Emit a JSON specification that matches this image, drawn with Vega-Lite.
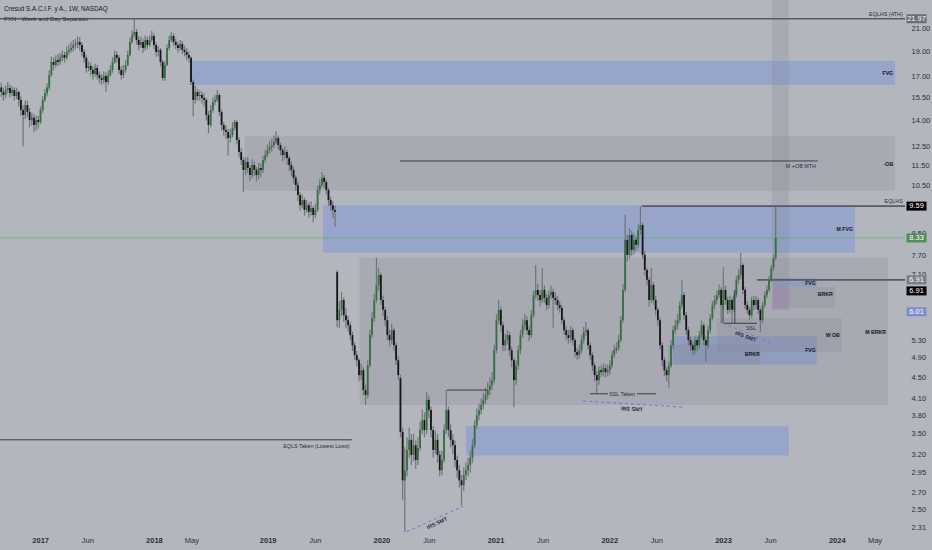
{
"$schema":"https://vega.github.io/schema/vega-lite/v6.json",
"width":905,"height":532,
"autosize":{"type":"none"},
"padding":{"left":0,"top":0,"right":27,"bottom":18},
"background":"#b4b6be",
"config":{"view":{"stroke":null},"font":"Liberation Sans"},
"datasets":{
"candles":[
{"d":"2016-08-29","o":16.2,"h":16.55,"l":15.55,"c":15.89},
{"d":"2016-09-05","o":15.89,"h":16.2,"l":15.3,"c":15.68},
{"d":"2016-09-12","o":15.68,"h":16.35,"l":15.45,"c":16.03},
{"d":"2016-09-19","o":16.03,"h":16.6,"l":15.8,"c":16.17},
{"d":"2016-09-26","o":16.17,"h":16.4,"l":15.5,"c":15.82},
{"d":"2016-10-03","o":15.82,"h":16.3,"l":15.6,"c":16.03},
{"d":"2016-10-10","o":16.03,"h":16.2,"l":15.3,"c":15.61},
{"d":"2016-10-17","o":15.61,"h":16.2,"l":15.4,"c":15.89},
{"d":"2016-10-24","o":15.89,"h":16.0,"l":14.9,"c":15.34},
{"d":"2016-10-31","o":15.34,"h":15.6,"l":14.3,"c":14.68},
{"d":"2016-11-07","o":14.68,"h":15.0,"l":12.5,"c":14.35},
{"d":"2016-11-14","o":14.35,"h":15.3,"l":14.1,"c":15.0},
{"d":"2016-11-21","o":15.0,"h":15.3,"l":14.2,"c":14.55},
{"d":"2016-11-28","o":14.55,"h":14.8,"l":13.6,"c":14.04},
{"d":"2016-12-05","o":14.04,"h":14.5,"l":13.7,"c":14.17},
{"d":"2016-12-12","o":14.17,"h":14.4,"l":13.3,"c":13.73},
{"d":"2016-12-19","o":13.73,"h":14.3,"l":13.4,"c":14.04},
{"d":"2016-12-26","o":14.04,"h":14.3,"l":13.5,"c":13.9},
{"d":"2017-01-02","o":13.9,"h":14.9,"l":13.8,"c":14.68},
{"d":"2017-01-09","o":14.68,"h":15.6,"l":14.5,"c":15.34},
{"d":"2017-01-16","o":15.34,"h":16.1,"l":15.2,"c":15.8},
{"d":"2017-01-23","o":15.8,"h":16.5,"l":15.6,"c":16.2},
{"d":"2017-01-30","o":16.2,"h":17.5,"l":16.0,"c":17.13},
{"d":"2017-02-06","o":17.13,"h":18.6,"l":17.0,"c":18.15},
{"d":"2017-02-13","o":18.15,"h":18.5,"l":17.5,"c":17.91},
{"d":"2017-02-20","o":17.91,"h":18.7,"l":17.7,"c":18.31},
{"d":"2017-02-27","o":18.31,"h":18.8,"l":17.8,"c":18.15},
{"d":"2017-03-06","o":18.15,"h":18.9,"l":17.9,"c":18.48},
{"d":"2017-03-13","o":18.48,"h":19.1,"l":18.2,"c":18.72},
{"d":"2017-03-20","o":18.72,"h":19.0,"l":18.1,"c":18.48},
{"d":"2017-03-27","o":18.48,"h":19.4,"l":18.3,"c":18.97},
{"d":"2017-04-03","o":18.97,"h":19.6,"l":18.7,"c":19.14},
{"d":"2017-04-10","o":19.14,"h":19.8,"l":18.9,"c":19.31},
{"d":"2017-04-17","o":19.31,"h":20.0,"l":19.0,"c":19.56},
{"d":"2017-04-24","o":19.56,"h":20.1,"l":19.2,"c":19.65},
{"d":"2017-05-01","o":19.65,"h":20.3,"l":19.3,"c":19.82},
{"d":"2017-05-08","o":19.82,"h":20.25,"l":19.1,"c":19.56},
{"d":"2017-05-15","o":19.56,"h":19.8,"l":18.6,"c":18.97},
{"d":"2017-05-22","o":18.97,"h":19.2,"l":18.1,"c":18.48},
{"d":"2017-05-29","o":18.48,"h":18.7,"l":17.3,"c":17.67},
{"d":"2017-06-05","o":17.67,"h":18.2,"l":17.4,"c":17.83},
{"d":"2017-06-12","o":17.83,"h":18.1,"l":17.1,"c":17.52},
{"d":"2017-06-19","o":17.52,"h":17.8,"l":16.8,"c":17.21},
{"d":"2017-06-26","o":17.21,"h":18.0,"l":17.0,"c":17.67},
{"d":"2017-07-03","o":17.67,"h":17.9,"l":16.8,"c":17.13},
{"d":"2017-07-10","o":17.13,"h":17.4,"l":16.5,"c":16.91},
{"d":"2017-07-17","o":16.91,"h":17.2,"l":16.4,"c":16.76},
{"d":"2017-07-24","o":16.76,"h":17.4,"l":16.5,"c":17.06},
{"d":"2017-07-31","o":17.06,"h":17.3,"l":15.9,"c":16.61},
{"d":"2017-08-07","o":16.61,"h":17.5,"l":16.4,"c":17.13},
{"d":"2017-08-14","o":17.13,"h":17.9,"l":17.0,"c":17.52},
{"d":"2017-08-21","o":17.52,"h":18.5,"l":17.3,"c":18.15},
{"d":"2017-08-28","o":18.15,"h":19.1,"l":18.0,"c":18.72},
{"d":"2017-09-04","o":18.72,"h":19.0,"l":18.1,"c":18.48},
{"d":"2017-09-11","o":18.48,"h":18.7,"l":17.2,"c":17.52},
{"d":"2017-09-18","o":17.52,"h":17.8,"l":16.8,"c":17.13},
{"d":"2017-09-25","o":17.13,"h":17.9,"l":16.9,"c":17.52},
{"d":"2017-10-02","o":17.52,"h":18.3,"l":17.3,"c":17.91},
{"d":"2017-10-09","o":17.91,"h":19.1,"l":17.8,"c":18.72},
{"d":"2017-10-16","o":18.72,"h":20.2,"l":18.6,"c":19.82},
{"d":"2017-10-23","o":19.82,"h":20.9,"l":19.7,"c":20.45},
{"d":"2017-10-30","o":20.45,"h":21.97,"l":20.2,"c":20.72},
{"d":"2017-11-06","o":20.72,"h":21.0,"l":19.6,"c":20.0},
{"d":"2017-11-13","o":20.0,"h":20.3,"l":19.1,"c":19.56},
{"d":"2017-11-20","o":19.56,"h":20.3,"l":19.3,"c":19.82},
{"d":"2017-11-27","o":19.82,"h":20.1,"l":18.9,"c":19.31},
{"d":"2017-12-04","o":19.31,"h":20.4,"l":19.1,"c":20.0},
{"d":"2017-12-11","o":20.0,"h":20.3,"l":19.2,"c":19.56},
{"d":"2017-12-18","o":19.56,"h":20.4,"l":19.4,"c":20.0},
{"d":"2017-12-25","o":20.0,"h":20.8,"l":19.8,"c":20.36},
{"d":"2018-01-01","o":20.36,"h":20.6,"l":19.2,"c":19.56},
{"d":"2018-01-08","o":19.56,"h":19.8,"l":18.6,"c":18.97},
{"d":"2018-01-15","o":18.97,"h":19.5,"l":18.6,"c":19.14},
{"d":"2018-01-22","o":19.14,"h":19.3,"l":17.8,"c":18.15},
{"d":"2018-01-29","o":18.15,"h":18.3,"l":16.7,"c":16.91},
{"d":"2018-02-05","o":16.91,"h":18.2,"l":16.7,"c":17.91},
{"d":"2018-02-12","o":17.91,"h":19.6,"l":17.8,"c":19.31},
{"d":"2018-02-19","o":19.31,"h":20.4,"l":19.1,"c":20.0},
{"d":"2018-02-26","o":20.0,"h":20.75,"l":19.8,"c":20.36},
{"d":"2018-03-05","o":20.36,"h":20.6,"l":19.5,"c":19.82},
{"d":"2018-03-12","o":19.82,"h":20.1,"l":19.2,"c":19.56},
{"d":"2018-03-19","o":19.56,"h":19.8,"l":18.9,"c":19.31},
{"d":"2018-03-26","o":19.31,"h":20.0,"l":19.1,"c":19.65},
{"d":"2018-04-02","o":19.65,"h":19.9,"l":18.8,"c":19.14},
{"d":"2018-04-09","o":19.14,"h":19.5,"l":18.6,"c":18.97},
{"d":"2018-04-16","o":18.97,"h":19.3,"l":18.3,"c":18.72},
{"d":"2018-04-23","o":18.72,"h":19.0,"l":18.1,"c":18.48},
{"d":"2018-04-30","o":18.48,"h":18.6,"l":16.4,"c":16.61},
{"d":"2018-05-07","o":16.61,"h":16.8,"l":14.25,"c":15.34},
{"d":"2018-05-14","o":15.34,"h":16.3,"l":15.1,"c":15.89},
{"d":"2018-05-21","o":15.89,"h":16.1,"l":15.3,"c":15.61},
{"d":"2018-05-28","o":15.61,"h":16.0,"l":15.3,"c":15.68},
{"d":"2018-06-04","o":15.68,"h":15.9,"l":15.1,"c":15.48},
{"d":"2018-06-11","o":15.48,"h":15.8,"l":14.9,"c":15.34},
{"d":"2018-06-18","o":15.34,"h":15.5,"l":14.0,"c":14.35},
{"d":"2018-06-25","o":14.35,"h":14.6,"l":13.25,"c":13.73},
{"d":"2018-07-02","o":13.73,"h":15.0,"l":13.6,"c":14.68},
{"d":"2018-07-09","o":14.68,"h":15.5,"l":14.5,"c":15.2},
{"d":"2018-07-16","o":15.2,"h":15.7,"l":15.0,"c":15.34},
{"d":"2018-07-23","o":15.34,"h":16.05,"l":15.2,"c":15.68},
{"d":"2018-07-30","o":15.68,"h":15.8,"l":14.3,"c":14.55},
{"d":"2018-08-06","o":14.55,"h":14.7,"l":13.4,"c":13.73},
{"d":"2018-08-13","o":13.73,"h":13.9,"l":13.1,"c":13.43},
{"d":"2018-08-20","o":13.43,"h":13.7,"l":12.9,"c":13.31},
{"d":"2018-08-27","o":13.31,"h":13.5,"l":12.0,"c":12.96},
{"d":"2018-09-03","o":12.96,"h":13.5,"l":12.7,"c":13.13},
{"d":"2018-09-10","o":13.13,"h":13.9,"l":13.0,"c":13.55},
{"d":"2018-09-17","o":13.55,"h":14.05,"l":13.4,"c":13.92},
{"d":"2018-09-24","o":13.92,"h":14.0,"l":12.6,"c":12.85},
{"d":"2018-10-01","o":12.85,"h":13.0,"l":11.9,"c":12.18},
{"d":"2018-10-08","o":12.18,"h":12.4,"l":11.5,"c":11.76},
{"d":"2018-10-15","o":11.76,"h":11.9,"l":10.2,"c":11.25},
{"d":"2018-10-22","o":11.25,"h":11.9,"l":11.0,"c":11.66},
{"d":"2018-10-29","o":11.66,"h":11.9,"l":11.1,"c":11.35},
{"d":"2018-11-05","o":11.35,"h":11.5,"l":10.7,"c":11.0},
{"d":"2018-11-12","o":11.0,"h":11.8,"l":10.85,"c":11.5},
{"d":"2018-11-19","o":11.5,"h":11.7,"l":10.95,"c":11.25},
{"d":"2018-11-26","o":11.25,"h":11.4,"l":10.7,"c":11.0},
{"d":"2018-12-03","o":11.0,"h":11.6,"l":10.8,"c":11.35},
{"d":"2018-12-10","o":11.35,"h":11.6,"l":10.9,"c":11.25},
{"d":"2018-12-17","o":11.25,"h":12.0,"l":11.1,"c":11.76},
{"d":"2018-12-24","o":11.76,"h":12.3,"l":11.6,"c":12.02},
{"d":"2018-12-31","o":12.02,"h":12.6,"l":11.9,"c":12.29},
{"d":"2019-01-07","o":12.29,"h":12.8,"l":12.1,"c":12.46},
{"d":"2019-01-14","o":12.46,"h":12.9,"l":12.2,"c":12.56},
{"d":"2019-01-21","o":12.56,"h":13.1,"l":12.4,"c":12.74},
{"d":"2019-01-28","o":12.74,"h":13.35,"l":12.6,"c":12.96},
{"d":"2019-02-04","o":12.96,"h":13.1,"l":12.3,"c":12.56},
{"d":"2019-02-11","o":12.56,"h":12.7,"l":12.0,"c":12.29},
{"d":"2019-02-18","o":12.29,"h":12.4,"l":11.7,"c":12.02},
{"d":"2019-02-25","o":12.02,"h":12.5,"l":11.8,"c":12.18},
{"d":"2019-03-04","o":12.18,"h":12.3,"l":11.5,"c":11.86},
{"d":"2019-03-11","o":11.86,"h":12.0,"l":11.2,"c":11.5},
{"d":"2019-03-18","o":11.5,"h":11.7,"l":10.95,"c":11.25},
{"d":"2019-03-25","o":11.25,"h":11.4,"l":10.6,"c":10.87},
{"d":"2019-04-01","o":10.87,"h":11.0,"l":10.25,"c":10.53},
{"d":"2019-04-08","o":10.53,"h":10.7,"l":9.8,"c":10.07},
{"d":"2019-04-15","o":10.07,"h":10.2,"l":9.4,"c":9.63},
{"d":"2019-04-22","o":9.63,"h":10.1,"l":9.5,"c":9.85},
{"d":"2019-04-29","o":9.85,"h":9.95,"l":9.2,"c":9.43},
{"d":"2019-05-06","o":9.43,"h":9.85,"l":9.3,"c":9.63},
{"d":"2019-05-13","o":9.63,"h":9.75,"l":9.1,"c":9.35},
{"d":"2019-05-20","o":9.35,"h":9.8,"l":9.2,"c":9.51},
{"d":"2019-05-27","o":9.51,"h":9.6,"l":8.92,"c":9.22},
{"d":"2019-06-03","o":9.22,"h":9.7,"l":9.1,"c":9.43},
{"d":"2019-06-10","o":9.43,"h":10.5,"l":9.35,"c":10.3},
{"d":"2019-06-17","o":10.3,"h":10.8,"l":10.1,"c":10.53},
{"d":"2019-06-24","o":10.53,"h":11.15,"l":10.4,"c":10.87},
{"d":"2019-07-01","o":10.87,"h":11.0,"l":10.4,"c":10.67},
{"d":"2019-07-08","o":10.67,"h":10.8,"l":10.1,"c":10.3},
{"d":"2019-07-15","o":10.3,"h":10.4,"l":9.6,"c":9.85},
{"d":"2019-07-22","o":9.85,"h":10.0,"l":9.4,"c":9.63},
{"d":"2019-07-29","o":9.63,"h":9.8,"l":9.1,"c":9.43},
{"d":"2019-08-05","o":9.43,"h":9.6,"l":8.75,"c":9.35},
{"d":"2019-08-12","o":7.16,"h":7.23,"l":5.61,"c":5.79},
{"d":"2019-08-19","o":5.79,"h":6.3,"l":5.6,"c":6.06},
{"d":"2019-08-26","o":6.06,"h":6.55,"l":5.9,"c":6.33},
{"d":"2019-09-02","o":6.33,"h":6.4,"l":5.75,"c":5.92},
{"d":"2019-09-09","o":5.92,"h":6.1,"l":5.6,"c":5.79},
{"d":"2019-09-16","o":5.79,"h":5.9,"l":5.5,"c":5.66},
{"d":"2019-09-23","o":5.66,"h":5.75,"l":5.3,"c":5.42},
{"d":"2019-09-30","o":5.42,"h":5.5,"l":5.05,"c":5.18},
{"d":"2019-10-07","o":5.18,"h":5.25,"l":4.85,"c":4.96},
{"d":"2019-10-14","o":4.96,"h":5.05,"l":4.72,"c":4.85},
{"d":"2019-10-21","o":4.85,"h":4.9,"l":4.42,"c":4.54},
{"d":"2019-10-28","o":4.54,"h":4.78,"l":4.45,"c":4.64},
{"d":"2019-11-04","o":4.64,"h":4.7,"l":4.15,"c":4.25},
{"d":"2019-11-11","o":4.25,"h":4.35,"l":3.98,"c":4.16},
{"d":"2019-11-18","o":4.16,"h":4.85,"l":4.1,"c":4.74},
{"d":"2019-11-25","o":4.74,"h":5.55,"l":4.7,"c":5.42},
{"d":"2019-12-02","o":5.42,"h":6.0,"l":5.35,"c":5.84},
{"d":"2019-12-09","o":5.84,"h":6.5,"l":5.75,"c":6.33},
{"d":"2019-12-16","o":6.33,"h":7.63,"l":6.25,"c":6.77},
{"d":"2019-12-23","o":6.77,"h":7.3,"l":6.6,"c":7.07},
{"d":"2019-12-30","o":7.07,"h":7.15,"l":6.2,"c":6.33},
{"d":"2020-01-06","o":6.33,"h":6.45,"l":5.9,"c":6.06},
{"d":"2020-01-13","o":6.06,"h":6.15,"l":5.65,"c":5.79},
{"d":"2020-01-20","o":5.79,"h":5.9,"l":5.3,"c":5.42},
{"d":"2020-01-27","o":5.42,"h":5.55,"l":5.15,"c":5.3},
{"d":"2020-02-03","o":5.3,"h":5.7,"l":5.2,"c":5.54},
{"d":"2020-02-10","o":5.54,"h":5.6,"l":5.05,"c":5.18},
{"d":"2020-02-17","o":5.18,"h":5.25,"l":4.75,"c":4.85},
{"d":"2020-02-24","o":4.85,"h":4.95,"l":4.45,"c":4.54},
{"d":"2020-03-02","o":4.48,"h":4.55,"l":3.45,"c":3.53},
{"d":"2020-03-09","o":3.53,"h":3.6,"l":2.61,"c":2.85},
{"d":"2020-03-16","o":2.85,"h":3.3,"l":2.27,"c":2.98},
{"d":"2020-03-23","o":2.98,"h":3.45,"l":2.9,"c":3.26},
{"d":"2020-03-30","o":3.26,"h":3.6,"l":3.15,"c":3.41},
{"d":"2020-04-06","o":3.41,"h":3.5,"l":3.05,"c":3.19},
{"d":"2020-04-13","o":3.19,"h":3.5,"l":3.1,"c":3.33},
{"d":"2020-04-20","o":3.33,"h":3.4,"l":3.0,"c":3.12},
{"d":"2020-04-27","o":3.12,"h":3.45,"l":3.05,"c":3.29},
{"d":"2020-05-04","o":3.29,"h":3.7,"l":3.25,"c":3.56},
{"d":"2020-05-11","o":3.56,"h":3.9,"l":3.5,"c":3.72},
{"d":"2020-05-18","o":3.72,"h":3.85,"l":3.45,"c":3.56},
{"d":"2020-05-25","o":3.56,"h":4.21,"l":3.5,"c":4.07},
{"d":"2020-06-01","o":4.07,"h":4.15,"l":3.75,"c":3.89},
{"d":"2020-06-08","o":3.89,"h":3.95,"l":3.45,"c":3.56},
{"d":"2020-06-15","o":3.56,"h":3.62,"l":3.15,"c":3.26},
{"d":"2020-06-22","o":3.26,"h":3.55,"l":3.2,"c":3.41},
{"d":"2020-06-29","o":3.41,"h":3.5,"l":3.08,"c":3.19},
{"d":"2020-07-06","o":3.19,"h":3.25,"l":2.9,"c":2.98},
{"d":"2020-07-13","o":2.98,"h":3.25,"l":2.92,"c":3.12},
{"d":"2020-07-20","o":3.12,"h":3.65,"l":3.08,"c":3.56},
{"d":"2020-07-27","o":3.56,"h":4.25,"l":3.5,"c":3.89},
{"d":"2020-08-03","o":3.89,"h":3.95,"l":3.45,"c":3.56},
{"d":"2020-08-10","o":3.56,"h":3.65,"l":3.3,"c":3.41},
{"d":"2020-08-17","o":3.41,"h":3.5,"l":3.2,"c":3.33},
{"d":"2020-08-24","o":3.33,"h":3.4,"l":3.02,"c":3.12},
{"d":"2020-08-31","o":3.12,"h":3.18,"l":2.88,"c":2.98},
{"d":"2020-09-07","o":2.98,"h":3.05,"l":2.76,"c":2.85},
{"d":"2020-09-14","o":2.85,"h":2.92,"l":2.55,"c":2.79},
{"d":"2020-09-21","o":2.79,"h":3.02,"l":2.72,"c":2.92},
{"d":"2020-09-28","o":2.92,"h":3.08,"l":2.85,"c":2.98},
{"d":"2020-10-05","o":2.98,"h":3.15,"l":2.9,"c":3.05},
{"d":"2020-10-12","o":3.05,"h":3.25,"l":2.95,"c":3.15},
{"d":"2020-10-19","o":3.15,"h":3.42,"l":3.08,"c":3.33},
{"d":"2020-10-26","o":3.33,"h":3.72,"l":3.28,"c":3.64},
{"d":"2020-11-02","o":3.64,"h":3.92,"l":3.58,"c":3.8},
{"d":"2020-11-09","o":3.8,"h":4.0,"l":3.72,"c":3.89},
{"d":"2020-11-16","o":3.89,"h":4.1,"l":3.82,"c":3.98},
{"d":"2020-11-23","o":3.98,"h":4.2,"l":3.9,"c":4.07},
{"d":"2020-11-30","o":4.07,"h":4.3,"l":4.0,"c":4.16},
{"d":"2020-12-07","o":4.16,"h":4.4,"l":4.08,"c":4.25},
{"d":"2020-12-14","o":4.25,"h":4.5,"l":4.15,"c":4.34},
{"d":"2020-12-21","o":4.34,"h":4.6,"l":4.25,"c":4.44},
{"d":"2020-12-28","o":4.44,"h":5.2,"l":4.38,"c":5.07},
{"d":"2021-01-04","o":5.07,"h":5.95,"l":5.0,"c":5.79},
{"d":"2021-01-11","o":5.79,"h":6.33,"l":5.7,"c":6.06},
{"d":"2021-01-18","o":6.06,"h":6.15,"l":5.5,"c":5.66},
{"d":"2021-01-25","o":5.66,"h":5.75,"l":5.05,"c":5.18},
{"d":"2021-02-01","o":5.18,"h":5.45,"l":5.05,"c":5.3},
{"d":"2021-02-08","o":5.3,"h":5.54,"l":5.2,"c":5.42},
{"d":"2021-02-15","o":5.42,"h":5.5,"l":4.95,"c":5.07},
{"d":"2021-02-22","o":5.07,"h":5.15,"l":4.7,"c":4.85},
{"d":"2021-03-01","o":4.85,"h":4.9,"l":3.94,"c":4.44},
{"d":"2021-03-08","o":4.44,"h":4.85,"l":4.35,"c":4.74},
{"d":"2021-03-15","o":4.74,"h":5.18,"l":4.65,"c":5.07},
{"d":"2021-03-22","o":5.07,"h":5.55,"l":4.98,"c":5.42},
{"d":"2021-03-29","o":5.42,"h":5.82,"l":5.35,"c":5.66},
{"d":"2021-04-05","o":5.66,"h":5.95,"l":5.55,"c":5.79},
{"d":"2021-04-12","o":5.79,"h":5.9,"l":5.42,"c":5.54},
{"d":"2021-04-19","o":5.54,"h":5.65,"l":5.28,"c":5.42},
{"d":"2021-04-26","o":5.42,"h":6.05,"l":5.35,"c":5.92},
{"d":"2021-05-03","o":5.92,"h":6.6,"l":5.85,"c":6.47},
{"d":"2021-05-10","o":6.47,"h":7.39,"l":6.35,"c":6.62},
{"d":"2021-05-17","o":6.62,"h":6.8,"l":6.3,"c":6.47},
{"d":"2021-05-24","o":6.47,"h":6.6,"l":6.15,"c":6.33},
{"d":"2021-05-31","o":6.33,"h":7.29,"l":6.25,"c":6.62},
{"d":"2021-06-07","o":6.62,"h":6.75,"l":6.25,"c":6.39},
{"d":"2021-06-14","o":6.39,"h":6.5,"l":6.05,"c":6.19},
{"d":"2021-06-21","o":6.19,"h":6.6,"l":6.1,"c":6.47},
{"d":"2021-06-28","o":6.47,"h":6.75,"l":6.35,"c":6.56},
{"d":"2021-07-05","o":6.56,"h":6.65,"l":5.6,"c":6.39},
{"d":"2021-07-12","o":6.39,"h":6.55,"l":6.2,"c":6.33},
{"d":"2021-07-19","o":6.33,"h":6.45,"l":6.05,"c":6.19},
{"d":"2021-07-26","o":6.19,"h":6.3,"l":5.98,"c":6.11},
{"d":"2021-08-02","o":6.11,"h":6.2,"l":5.68,"c":5.79},
{"d":"2021-08-09","o":5.79,"h":5.85,"l":5.42,"c":5.54},
{"d":"2021-08-16","o":5.54,"h":5.65,"l":5.3,"c":5.42},
{"d":"2021-08-23","o":5.42,"h":5.55,"l":5.22,"c":5.35},
{"d":"2021-08-30","o":5.35,"h":5.65,"l":5.25,"c":5.54},
{"d":"2021-09-06","o":5.54,"h":5.6,"l":5.18,"c":5.3},
{"d":"2021-09-13","o":5.3,"h":5.35,"l":4.92,"c":5.03},
{"d":"2021-09-20","o":5.03,"h":5.12,"l":4.85,"c":4.96},
{"d":"2021-09-27","o":4.96,"h":5.2,"l":4.88,"c":5.07},
{"d":"2021-10-04","o":5.07,"h":5.42,"l":5.0,"c":5.3},
{"d":"2021-10-11","o":5.3,"h":5.62,"l":5.22,"c":5.49},
{"d":"2021-10-18","o":5.49,"h":5.74,"l":5.4,"c":5.54},
{"d":"2021-10-25","o":5.54,"h":5.6,"l":5.08,"c":5.18},
{"d":"2021-11-01","o":5.18,"h":5.25,"l":4.85,"c":4.96},
{"d":"2021-11-08","o":4.96,"h":5.02,"l":4.62,"c":4.74},
{"d":"2021-11-15","o":4.74,"h":4.8,"l":4.42,"c":4.54},
{"d":"2021-11-22","o":4.54,"h":4.62,"l":4.19,"c":4.44},
{"d":"2021-11-29","o":4.44,"h":4.72,"l":4.35,"c":4.64},
{"d":"2021-12-06","o":4.64,"h":4.74,"l":4.5,"c":4.6},
{"d":"2021-12-13","o":4.6,"h":4.78,"l":4.52,"c":4.68},
{"d":"2021-12-20","o":4.68,"h":4.76,"l":4.5,"c":4.6},
{"d":"2021-12-27","o":4.6,"h":4.76,"l":4.52,"c":4.64},
{"d":"2022-01-03","o":4.64,"h":4.85,"l":4.55,"c":4.74},
{"d":"2022-01-10","o":4.74,"h":5.05,"l":4.68,"c":4.96},
{"d":"2022-01-17","o":4.96,"h":5.18,"l":4.9,"c":5.07},
{"d":"2022-01-24","o":5.07,"h":5.25,"l":5.0,"c":5.12},
{"d":"2022-01-31","o":5.12,"h":5.42,"l":5.05,"c":5.3},
{"d":"2022-02-07","o":5.3,"h":5.9,"l":5.25,"c":5.79},
{"d":"2022-02-14","o":5.79,"h":6.8,"l":5.72,"c":6.62},
{"d":"2022-02-21","o":6.62,"h":9.22,"l":6.55,"c":8.26},
{"d":"2022-02-28","o":8.26,"h":8.45,"l":7.5,"c":7.73},
{"d":"2022-03-07","o":7.73,"h":8.7,"l":7.6,"c":8.44},
{"d":"2022-03-14","o":8.44,"h":8.6,"l":7.7,"c":7.9},
{"d":"2022-03-21","o":7.9,"h":8.5,"l":7.75,"c":8.26},
{"d":"2022-03-28","o":8.26,"h":8.4,"l":7.85,"c":8.08},
{"d":"2022-04-04","o":8.08,"h":8.85,"l":7.95,"c":8.63},
{"d":"2022-04-11","o":8.63,"h":9.59,"l":8.45,"c":8.82},
{"d":"2022-04-18","o":8.82,"h":8.9,"l":7.6,"c":7.73},
{"d":"2022-04-25","o":7.73,"h":7.85,"l":7.05,"c":7.23},
{"d":"2022-05-02","o":7.23,"h":7.3,"l":6.75,"c":6.92},
{"d":"2022-05-09","o":6.92,"h":7.0,"l":6.15,"c":6.33},
{"d":"2022-05-16","o":6.33,"h":7.29,"l":6.25,"c":6.77},
{"d":"2022-05-23","o":6.77,"h":6.85,"l":6.2,"c":6.33},
{"d":"2022-05-30","o":6.33,"h":6.45,"l":5.92,"c":6.06},
{"d":"2022-06-06","o":6.06,"h":6.12,"l":5.65,"c":5.79},
{"d":"2022-06-13","o":5.79,"h":5.85,"l":5.08,"c":5.18},
{"d":"2022-06-20","o":5.18,"h":5.25,"l":4.72,"c":4.85},
{"d":"2022-06-27","o":4.85,"h":4.92,"l":4.52,"c":4.64},
{"d":"2022-07-04","o":4.64,"h":4.7,"l":4.42,"c":4.54},
{"d":"2022-07-11","o":4.54,"h":4.82,"l":4.3,"c":4.74},
{"d":"2022-07-18","o":4.74,"h":5.3,"l":4.68,"c":5.18},
{"d":"2022-07-25","o":5.18,"h":5.65,"l":5.1,"c":5.54},
{"d":"2022-08-01","o":5.54,"h":5.8,"l":5.45,"c":5.66},
{"d":"2022-08-08","o":5.66,"h":5.95,"l":5.55,"c":5.79},
{"d":"2022-08-15","o":5.79,"h":6.3,"l":5.72,"c":6.19},
{"d":"2022-08-22","o":6.19,"h":6.92,"l":6.1,"c":6.47},
{"d":"2022-08-29","o":6.47,"h":6.55,"l":5.8,"c":5.92},
{"d":"2022-09-05","o":5.92,"h":6.0,"l":5.42,"c":5.54},
{"d":"2022-09-12","o":5.54,"h":5.62,"l":5.18,"c":5.3},
{"d":"2022-09-19","o":5.3,"h":5.38,"l":5.05,"c":5.18},
{"d":"2022-09-26","o":5.18,"h":5.25,"l":4.95,"c":5.07},
{"d":"2022-10-03","o":5.07,"h":5.4,"l":4.98,"c":5.3},
{"d":"2022-10-10","o":5.3,"h":5.38,"l":5.05,"c":5.18},
{"d":"2022-10-17","o":5.18,"h":5.52,"l":5.1,"c":5.42},
{"d":"2022-10-24","o":5.42,"h":5.78,"l":5.35,"c":5.66},
{"d":"2022-10-31","o":5.66,"h":5.72,"l":5.18,"c":5.3},
{"d":"2022-11-07","o":5.3,"h":5.38,"l":4.81,"c":5.18},
{"d":"2022-11-14","o":5.18,"h":5.65,"l":5.1,"c":5.54},
{"d":"2022-11-21","o":5.54,"h":5.95,"l":5.45,"c":5.84},
{"d":"2022-11-28","o":5.84,"h":6.3,"l":5.78,"c":6.19},
{"d":"2022-12-05","o":6.19,"h":6.45,"l":6.08,"c":6.33},
{"d":"2022-12-12","o":6.33,"h":6.6,"l":6.22,"c":6.47},
{"d":"2022-12-19","o":6.47,"h":6.78,"l":6.38,"c":6.62},
{"d":"2022-12-26","o":6.62,"h":6.7,"l":5.72,"c":6.19},
{"d":"2023-01-02","o":6.19,"h":7.32,"l":6.1,"c":6.62},
{"d":"2023-01-09","o":6.62,"h":6.75,"l":6.2,"c":6.33},
{"d":"2023-01-16","o":6.33,"h":6.42,"l":5.95,"c":6.06},
{"d":"2023-01-23","o":6.06,"h":6.45,"l":5.98,"c":6.33},
{"d":"2023-01-30","o":6.33,"h":6.4,"l":5.72,"c":6.06},
{"d":"2023-02-06","o":6.06,"h":6.6,"l":6.0,"c":6.47},
{"d":"2023-02-13","o":6.47,"h":7.05,"l":6.4,"c":6.92},
{"d":"2023-02-20","o":6.92,"h":7.25,"l":6.8,"c":7.07},
{"d":"2023-02-27","o":7.07,"h":7.8,"l":6.95,"c":7.39},
{"d":"2023-03-06","o":7.39,"h":7.45,"l":6.5,"c":6.62},
{"d":"2023-03-13","o":6.62,"h":6.7,"l":6.08,"c":6.19},
{"d":"2023-03-20","o":6.19,"h":6.3,"l":5.95,"c":6.06},
{"d":"2023-03-27","o":6.06,"h":6.15,"l":5.8,"c":5.92},
{"d":"2023-04-03","o":5.92,"h":6.42,"l":5.85,"c":6.33},
{"d":"2023-04-10","o":6.33,"h":6.45,"l":6.05,"c":6.19},
{"d":"2023-04-17","o":6.19,"h":6.45,"l":6.08,"c":6.33},
{"d":"2023-04-24","o":6.33,"h":6.4,"l":5.95,"c":6.06},
{"d":"2023-05-01","o":6.06,"h":6.12,"l":5.49,"c":5.79},
{"d":"2023-05-08","o":5.79,"h":6.28,"l":5.72,"c":6.19},
{"d":"2023-05-15","o":6.19,"h":6.58,"l":6.12,"c":6.47},
{"d":"2023-05-22","o":6.47,"h":6.75,"l":6.38,"c":6.62},
{"d":"2023-05-29","o":6.62,"h":7.05,"l":6.55,"c":6.92},
{"d":"2023-06-05","o":6.92,"h":7.4,"l":6.85,"c":7.29},
{"d":"2023-06-12","o":7.29,"h":7.75,"l":7.2,"c":7.63},
{"d":"2023-06-19","o":7.63,"h":9.59,"l":7.55,"c":8.33}
],
"zones":[
{"x1":"2018-04-26","x2":"2024-07-06","y1":18.23,"y2":16.39,"k":"fvg"},
{"x1":"2019-06-27","x2":"2024-02-28","y1":9.63,"y2":7.8,"k":"fvg"},
{"x1":"2022-07-24","x2":"2023-10-29","y1":5.39,"y2":4.76,"k":"fvg"},
{"x1":"2023-06-10","x2":"2023-10-29","y1":6.98,"y2":6.71,"k":"fvg"},
{"x1":"2020-09-28","x2":"2023-07-31","y1":3.62,"y2":3.18,"k":"fvg"},
{"x1":"2018-10-19","x2":"2024-07-06","y1":13.07,"y2":10.26,"k":"ob"},
{"x1":"2019-10-23","x2":"2024-06-13","y1":7.63,"y2":3.98,"k":"ob"},
{"x1":"2022-12-12","x2":"2024-01-17","y1":5.84,"y2":5.03,"k":"ob"},
{"x1":"2022-07-08","x2":"2023-04-29","y1":5.2,"y2":4.76,"k":"ob"},
{"x1":"2023-06-10","x2":"2023-12-26","y1":6.71,"y2":6.11,"k":"ob"},
{"x1":"2023-06-07","x2":"2023-07-31","y1":23.87,"y2":6.71,"k":"ob"},
{"x1":"2023-06-07","x2":"2023-07-31","y1":6.71,"y2":6.06,"k":"pink"}
],
"lines":[
{"x1":"2016-08-25","x2":"2024-08-07","y1":21.97,"y2":21.97,"k":"heavy"},
{"x1":"2022-04-16","x2":"2024-08-07","y1":9.59,"y2":9.59,"k":"heavy"},
{"x1":"2023-04-20","x2":"2024-08-07","y1":6.92,"y2":6.92,"k":"heavy"},
{"x1":"2020-02-29","x2":"2023-11-01","y1":11.71,"y2":11.71,"k":"thin"},
{"x1":"2016-08-25","x2":"2019-09-28","y1":3.41,"y2":3.41,"k":"thin"},
{"x1":"2020-07-29","x2":"2020-12-05","y1":4.25,"y2":4.25,"k":"thin"},
{"x1":"2021-10-31","x2":"2021-12-28","y1":4.18,"y2":4.18,"k":"thin"},
{"x1":"2022-03-31","x2":"2022-05-31","y1":4.18,"y2":4.18,"k":"thin"},
{"x1":"2023-01-01","x2":"2023-04-20","y1":5.71,"y2":5.71,"k":"thin"},
{"x1":"2023-01-01","x2":"2023-01-01","y1":6.33,"y2":5.71,"k":"thin"},
{"x1":"2023-02-08","x2":"2023-02-08","y1":6.62,"y2":5.71,"k":"thin"},
{"x1":"2016-08-25","x2":"2024-08-07","y1":8.33,"y2":8.33,"k":"price"},
{"x1":"2020-03-22","x2":"2020-09-18","y1":2.27,"y2":2.54,"k":"smt"},
{"x1":"2021-10-09","x2":"2022-08-22","y1":4.05,"y2":3.94,"k":"smt"},
{"x1":"2023-01-01","x2":"2023-05-31","y1":5.71,"y2":5.25,"k":"smt"}
],
"boxlabels":[
{"d":"2024-06-30","p":17.29,"t":"FVG"},
{"d":"2024-06-30","p":11.56,"t":"-OB"},
{"d":"2024-02-22","p":8.67,"t":"M FVG"},
{"d":"2023-10-26","p":6.83,"t":"FVG"},
{"d":"2023-12-19","p":6.5,"t":"BRKR"},
{"d":"2024-01-11","p":5.42,"t":"W OB"},
{"d":"2024-06-07","p":5.49,"t":"M BRKR"},
{"d":"2023-10-26","p":5.07,"t":"FVG"},
{"d":"2023-04-29","p":4.98,"t":"BRKR"}
],
"rightnotes":[
{"d":"2024-07-31","p":22.44,"t":"EQLHS (ATH)"},
{"d":"2024-07-31","p":9.81,"t":"EQLHS"},
{"d":"2019-09-21","p":3.32,"t":"EQLS Taken (Lowest Lows)"}
],
"centernotes":[
{"d":"2023-09-08","p":11.45,"t":"M +OB MTH"},
{"d":"2022-02-11","p":4.18,"t":"SSL Taken"},
{"d":"2023-04-01","p":5.59,"t":"SSL"}
],
"tags":[
{"p":21.97,"t":"21.97","k":"grey"},
{"p":9.59,"t":"9.59","k":"black"},
{"p":8.33,"t":"8.33","k":"green"},
{"p":6.92,"t":"6.91","k":"grey2"},
{"p":6.59,"t":"6.91","k":"black"},
{"p":6.01,"t":"6.01","k":"blue"}
]
},
"layer":[
{"data":{"name":"zones"},"transform":[{"filter":"datum.k=='fvg'"}],
 "mark":{"type":"rect","color":"#2962ff","opacity":0.2},
 "encoding":{
  "x":{"field":"x1","type":"temporal","title":null,"scale":{"type":"utc","domain":[{"year":2016,"month":8,"date":25,"utc":true},{"year":2024,"month":8,"date":7,"utc":true}],"nice":false,"padding":0},
   "axis":{"values":[{"year":2017,"month":1,"date":1,"utc":true},{"year":2017,"month":6,"date":1,"utc":true},{"year":2018,"month":1,"date":1,"utc":true},{"year":2018,"month":5,"date":1,"utc":true},{"year":2019,"month":1,"date":1,"utc":true},{"year":2019,"month":6,"date":1,"utc":true},{"year":2020,"month":1,"date":1,"utc":true},{"year":2020,"month":6,"date":1,"utc":true},{"year":2021,"month":1,"date":1,"utc":true},{"year":2021,"month":6,"date":1,"utc":true},{"year":2022,"month":1,"date":1,"utc":true},{"year":2022,"month":6,"date":1,"utc":true},{"year":2023,"month":1,"date":1,"utc":true},{"year":2023,"month":6,"date":1,"utc":true},{"year":2024,"month":1,"date":1,"utc":true},{"year":2024,"month":5,"date":1,"utc":true}],
    "labelExpr":"utcmonth(datum.value)==0 ? utcFormat(datum.value,'%Y') : utcFormat(datum.value,'%b')",
    "labelFontWeight":{"condition":{"test":"utcmonth(datum.value)==0","value":"bold"},"value":"normal"},
    "grid":false,"ticks":false,"tickSize":0,"domain":false,"labelPadding":4,"labelFontSize":7.5,"labelColor":"#2a2e39","labelFont":"Liberation Sans","labelAngle":0,"labelOverlap":false,"labelFlush":false,"title":null}},
  "x2":{"field":"x2"},
  "y":{"field":"y1","type":"quantitative","title":null,"scale":{"type":"log","domain":[2.268,23.87],"nice":false,"padding":0},
   "axis":{"orient":"right","values":[2.31,2.5,2.7,2.95,3.2,3.5,3.8,4.1,4.5,4.9,5.3,7.1,7.7,8.5,10.5,11.5,12.5,14,15.5,17,19,21],"format":".2f","grid":false,"ticks":false,"tickSize":0,"domain":false,"labelPadding":6,"labelFontSize":7.5,"labelColor":"#2a2e39","labelFont":"Liberation Sans","labelOverlap":false,"labelFlush":false,
    "title":"USD","titleAngle":0,"titleX":4,"titleY":7,"titleAlign":"left","titleBaseline":"middle","titleFontWeight":"normal","titleFontSize":7.5,"titleColor":"#2a2e39","titleFont":"Liberation Sans"}},
  "y2":{"field":"y2"}}},
{"data":{"name":"zones"},"transform":[{"filter":"datum.k=='ob'"}],
 "mark":{"type":"rect","color":"#787b86","opacity":0.2},
 "encoding":{"x":{"field":"x1","type":"temporal","title":null},"x2":{"field":"x2"},"y":{"field":"y1","type":"quantitative","title":null},"y2":{"field":"y2"}}},
{"data":{"name":"zones"},"transform":[{"filter":"datum.k=='pink'"}],
 "mark":{"type":"rect","color":"#9c27b0","opacity":0.15},
 "encoding":{"x":{"field":"x1","type":"temporal","title":null},"x2":{"field":"x2"},"y":{"field":"y1","type":"quantitative","title":null},"y2":{"field":"y2"}}},
{"data":{"name":"lines"},"transform":[{"filter":"datum.k=='price'"}],
 "mark":{"type":"rule","color":"#4caf50","opacity":0.55,"strokeWidth":1},
 "encoding":{"x":{"field":"x1","type":"temporal","title":null},"x2":{"field":"x2"},"y":{"field":"y1","type":"quantitative","title":null},"y2":{"field":"y2"}}},
{"data":{"name":"candles"},
 "mark":{"type":"rule","color":"#70737b","strokeWidth":1.2},
 "encoding":{"x":{"field":"d","type":"temporal","title":null},"y":{"field":"l","type":"quantitative","title":null},"y2":{"field":"h"}}},
{"data":{"name":"candles"},
 "mark":{"type":"bar","width":1.8},
 "encoding":{"x":{"field":"d","type":"temporal","title":null},"y":{"field":"o","type":"quantitative","title":null},"y2":{"field":"c"},
  "color":{"condition":{"test":"datum.c > datum.o","value":"#34703d"},"value":"#161616"}}},
{"data":{"name":"lines"},"transform":[{"filter":"datum.k=='heavy'"}],
 "mark":{"type":"rule","color":"#585b66","strokeWidth":1.6},
 "encoding":{"x":{"field":"x1","type":"temporal","title":null},"x2":{"field":"x2"},"y":{"field":"y1","type":"quantitative","title":null},"y2":{"field":"y2"}}},
{"data":{"name":"lines"},"transform":[{"filter":"datum.k=='thin'"}],
 "mark":{"type":"rule","color":"#3a3d47","strokeWidth":1},
 "encoding":{"x":{"field":"x1","type":"temporal","title":null},"x2":{"field":"x2"},"y":{"field":"y1","type":"quantitative","title":null},"y2":{"field":"y2"}}},
{"data":{"name":"lines"},"transform":[{"filter":"datum.k=='smt'"}],
 "mark":{"type":"rule","color":"#5d7fd8","strokeWidth":1,"strokeDash":[3,3]},
 "encoding":{"x":{"field":"x1","type":"temporal","title":null},"x2":{"field":"x2"},"y":{"field":"y1","type":"quantitative","title":null},"y2":{"field":"y2"}}},
{"data":{"name":"boxlabels"},
 "mark":{"type":"text","align":"right","baseline":"middle","fontSize":5.2,"fontWeight":"bold","color":"#131722","font":"Liberation Sans"},
 "encoding":{"x":{"field":"d","type":"temporal","title":null},"y":{"field":"p","type":"quantitative","title":null},"text":{"field":"t"}}},
{"data":{"name":"rightnotes"},
 "mark":{"type":"text","align":"right","baseline":"middle","fontSize":5.4,"color":"#2a2e39","font":"Liberation Sans"},
 "encoding":{"x":{"field":"d","type":"temporal","title":null},"y":{"field":"p","type":"quantitative","title":null},"text":{"field":"t"}}},
{"data":{"name":"centernotes"},
 "mark":{"type":"text","align":"center","baseline":"middle","fontSize":5.4,"color":"#2a2e39","font":"Liberation Sans"},
 "encoding":{"x":{"field":"d","type":"temporal","title":null},"y":{"field":"p","type":"quantitative","title":null},"text":{"field":"t"}}},
{"data":{"values":[{"d":"2022-03-15","p":3.91,"t":"IRS SMT"}]},
 "mark":{"type":"text","align":"center","baseline":"middle","fontSize":5.4,"fontWeight":"bold","color":"#2a2e39","font":"Liberation Sans","angle":3},
 "encoding":{"x":{"field":"d","type":"temporal","title":null},"y":{"field":"p","type":"quantitative","title":null},"text":{"field":"t"}}},
{"data":{"values":[{"d":"2020-06-27","p":2.36,"t":"IRS SMT"}]},
 "mark":{"type":"text","align":"center","baseline":"middle","fontSize":5.4,"fontWeight":"bold","color":"#2a2e39","font":"Liberation Sans","angle":-25},
 "encoding":{"x":{"field":"d","type":"temporal","title":null},"y":{"field":"p","type":"quantitative","title":null},"text":{"field":"t"}}},
{"data":{"values":[{"d":"2023-03-15","p":5.39,"t":"IRS SMT"}]},
 "mark":{"type":"text","align":"center","baseline":"middle","fontSize":5.4,"fontWeight":"bold","color":"#2a2e39","font":"Liberation Sans","angle":20},
 "encoding":{"x":{"field":"d","type":"temporal","title":null},"y":{"field":"p","type":"quantitative","title":null},"text":{"field":"t"}}},
{"data":{"values":[{"d":"2016-09-07","p":22.9,"t":"Cresud S.A.C.I.F. y A., 1W, NASDAQ"}]},
 "mark":{"type":"text","align":"left","baseline":"middle","fontSize":6.3,"fontWeight":500,"color":"#131722","font":"Liberation Sans"},
 "encoding":{"x":{"field":"d","type":"temporal","title":null},"y":{"field":"p","type":"quantitative","title":null},"text":{"field":"t"}}},
{"data":{"values":[{"d":"2016-09-07","p":21.97,"t":"FXN - Week and Day Separator"}]},
 "mark":{"type":"text","align":"left","baseline":"middle","fontSize":6,"color":"#2a2e39","font":"Liberation Sans"},
 "encoding":{"x":{"field":"d","type":"temporal","title":null},"y":{"field":"p","type":"quantitative","title":null},"text":{"field":"t"}}},
{"data":{"name":"tags"},
 "mark":{"type":"rect","width":20,"height":9},
 "encoding":{"x":{"datum":{"year":2024,"month":9,"date":13,"utc":true},"type":"temporal","title":null},"y":{"field":"p","type":"quantitative","title":null},
  "color":{"field":"k","type":"nominal","legend":null,"scale":{"domain":["grey","black","green","grey2","blue"],"range":["#6a6d78","#000000","#4f8f5d","#7c7f8a","#7b8fcf"]}}}},
{"data":{"name":"tags"},
 "mark":{"type":"text","align":"center","baseline":"middle","fontSize":7.5,"color":"#ffffff","font":"Liberation Sans"},
 "encoding":{"x":{"datum":{"year":2024,"month":9,"date":13,"utc":true},"type":"temporal","title":null},"y":{"field":"p","type":"quantitative","title":null},"text":{"field":"t"}}}
]
}
